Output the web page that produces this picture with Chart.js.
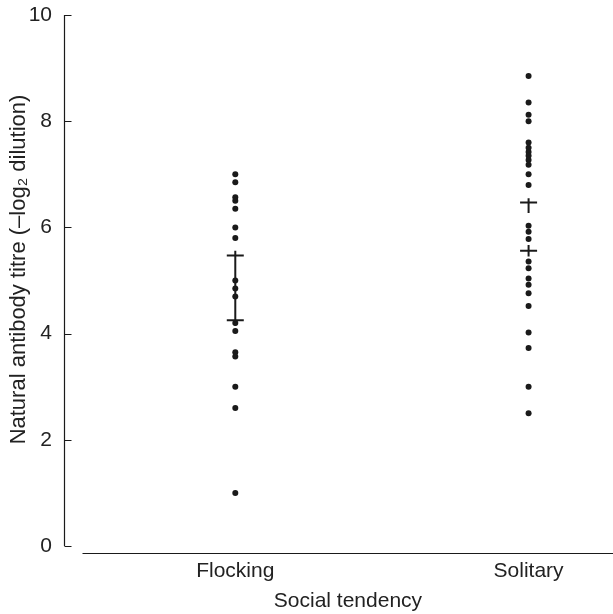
<!DOCTYPE html>
<html>
<head>
<meta charset="utf-8">
<script src="https://cdn.jsdelivr.net/npm/chart.js@4.4.1/dist/chart.umd.min.js"></script>
<style>
  html, body { margin: 0; padding: 0; background: #fff; overflow: hidden; }
  #wrap { width: 613px; height: 614px; position: relative; }
  canvas { display: block; }
</style>
</head>
<body>
<div id="wrap"><canvas id="titre-chart"></canvas></div>
<script>
const groups = ["Flocking", "Solitary"];
const yTicks = [0, 2, 4, 6, 8, 10];

// individual birds
const flocking = [7.0, 6.85, 6.57, 6.5, 6.35, 6.0, 5.8, 5.0, 4.85, 4.7, 4.2, 4.05, 3.65, 3.57, 3.0, 2.6, 1.0];
const solitary = [8.85, 8.35, 8.12, 8.0, 7.6, 7.5, 7.42, 7.35, 7.27, 7.18, 7.0, 6.8, 6.03, 5.92, 5.78,
  5.36, 5.23, 5.04, 4.92, 4.76, 4.52, 4.02, 3.73, 3.0, 2.5];

// summary crosses
const flockingBars = [5.47, 4.25];
const solitaryBars = [6.47, 5.56];
const flockingWhisker = [4.15, 5.56];
const solitaryUpperWhisker = [6.27, 6.55];
const solitaryLowerWhisker = [5.45, 5.67];

const ink = "#1a1a1a";
const family = "'Liberation Sans', Arial, sans-serif";
const font = { family, size: 21 };

const at = (x, values) => values.map((y) => ({ x, y }));

function whisker(x, span) {
  return {
    type: "line",
    data: at(x, span),
    borderColor: ink,
    borderWidth: 2,
    pointRadius: 0,
    showLine: true
  };
}

const axisLines = {
  id: "axisLines",
  afterDraw(chart) {
    const { ctx, chartArea, scales } = chart;
    const y = scales.y;
    const ax = Math.round(chartArea.left) + 0.5;
    ctx.save();
    ctx.strokeStyle = ink;
    ctx.lineWidth = 1.2;
    ctx.beginPath();
    ctx.moveTo(ax, y.getPixelForValue(10));
    ctx.lineTo(ax, y.getPixelForValue(0));
    yTicks.forEach((v) => {
      const py = Math.round(y.getPixelForValue(v)) + 0.5;
      ctx.moveTo(ax, py);
      ctx.lineTo(ax + 7, py);
    });
    const by = Math.round(y.getPixelForValue(0)) + 7.5;
    ctx.moveTo(ax + 18, by);
    ctx.lineTo(chart.width, by);
    ctx.stroke();
    ctx.restore();
  }
};

const ctx = document.getElementById("titre-chart").getContext("2d");

new Chart(ctx, {
  type: "scatter",
  data: {
    datasets: [
      {
        data: at(1, flockingBars).concat(at(2, solitaryBars)),
        pointStyle: "line",
        pointRadius: 8.5,
        pointBorderWidth: 2,
        borderColor: ink
      },
      whisker(1, flockingWhisker),
      whisker(2, solitaryUpperWhisker),
      whisker(2, solitaryLowerWhisker),
      {
        data: at(1, flocking).concat(at(2, solitary)),
        pointRadius: 3,
        pointBorderWidth: 0,
        backgroundColor: ink,
        borderColor: ink
      }
    ]
  },
  options: {
    responsive: true,
    maintainAspectRatio: false,
    animation: false,
    layout: { padding: { top: 15, right: 0, left: 0, bottom: 0 } },
    plugins: {
      legend: { display: false },
      tooltip: { enabled: false }
    },
    scales: {
      x: {
        type: "linear",
        min: 0.416,
        max: 2.252,
        afterBuildTicks: (s) => { s.ticks = [{ value: 1 }, { value: 2 }]; },
        afterFit: (s) => { s.height = 68; },
        grid: { display: false, drawTicks: false },
        border: { display: false },
        ticks: {
          padding: 13,
          color: "#222",
          font,
          maxRotation: 0,
          callback: (v) => groups[v - 1] || ""
        },
        title: {
          display: true,
          text: "\u2003\u2009\u2009Social tendency",
          color: "#222",
          font,
          padding: { top: 0, bottom: 0 }
        }
      },
      y: {
        min: 0,
        max: 10,
        afterBuildTicks: (s) => { s.ticks = yTicks.map((v) => ({ value: v })); },
        afterFit: (s) => { s.width = 64; },
        grid: { display: false, drawTicks: true, tickLength: 12 },
        border: { display: false },
        ticks: { padding: 0, color: "#222", font },
        title: {
          display: true,
          text: "\u2003Natural antibody titre (\u2013log\u2082 dilution)",
          color: "#222",
          font: { family, size: 22 },
          padding: { top: 6, bottom: 0 }
        }
      }
    }
  },
  plugins: [axisLines]
});
</script>
</body>
</html>
